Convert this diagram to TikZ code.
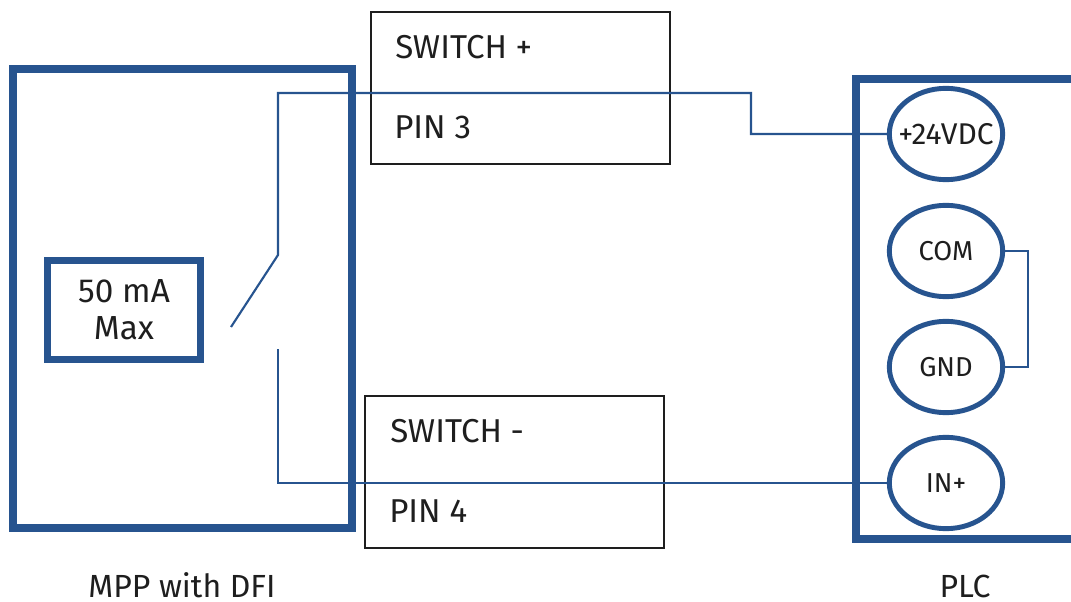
\documentclass[tikz,border=0pt]{standalone}
\usepackage{fontspec}
\setmainfont{Fira Sans}
\usetikzlibrary{shapes.geometric}
\definecolor{blu}{HTML}{27548F}
\definecolor{ink}{HTML}{1E1E1E}
\tikzset{
 x=0.75pt,y=-0.75pt,
 thickbox/.style={draw=blu,line width=5.5pt,fill=none},
 pinbox/.style={draw=ink,line width=1.5pt,fill=none,minimum width=224pt,minimum height=114pt,inner sep=0pt,anchor=north west},
 wire/.style={draw=blu,line width=1.6pt},
 term/.style={draw=blu,line width=3.7pt,ellipse,minimum width=85pt,minimum height=68.5pt,inner sep=0pt,fill=white,text=ink,font=\fontsize{20.5}{24}\selectfont},
 pinlabel/.style={text=ink,anchor=west,inner sep=0pt,font=\fontsize{24.8}{28}\selectfont},
 caption/.style={text=ink,inner sep=0pt,anchor=base,text depth=0pt,font=\fontsize{24}{28}\selectfont}
}
\begin{document}
\begin{tikzpicture}
\useasboundingbox (0,0) rectangle (1071,602);
\node[pinbox] (b1) at (370,11) {};
\node[pinbox] (b2) at (364,395) {};
\node[pinlabel] (t1) at (395,47) {SWITCH +};
\node[pinlabel] (t2) at (394,127) {PIN 3};
\node[pinlabel] (t3) at (390,431) {SWITCH -};
\node[pinlabel] (t4) at (389,511) {PIN 4};
\draw[thickbox] (13,69) rectangle (352,528);
\draw[thickbox] (1075,79) -- (856,79) -- (856,539) -- (1075,539);
\node[thickbox,text=ink,align=center,inner sep=0pt,minimum width=115pt,minimum height=74pt,font=\fontsize{25}{28}\selectfont] (m) at (124,310) {50 mA\\Max};
\node[term,font=\fontsize{22.5}{24}\selectfont] (p) at (946,134) {\makebox[0pt][c]{+24VDC}};
\node[term] (c) at (946,251) {COM};
\node[term] (g) at (946,367) {GND};
\node[term] (i) at (946,483) {IN+};
\coordinate (s1) at (278,255);
\coordinate (s2) at (231,327);
\coordinate (s3) at (278,349);
\draw[wire] (p.west) -- (751,134) -- (751,93) -- (278,93) -- (s1) -- (s2);
\draw[wire] (s3) |- (i.west);
\draw[wire] (c.east) -- (1028,251) -- (1028,367) -- (g.east);
\node[caption] (n1) at (182,597) {MPP with DFI};
\node[caption] (n2) at (965,597) {PLC};
\end{tikzpicture}
\end{document}
